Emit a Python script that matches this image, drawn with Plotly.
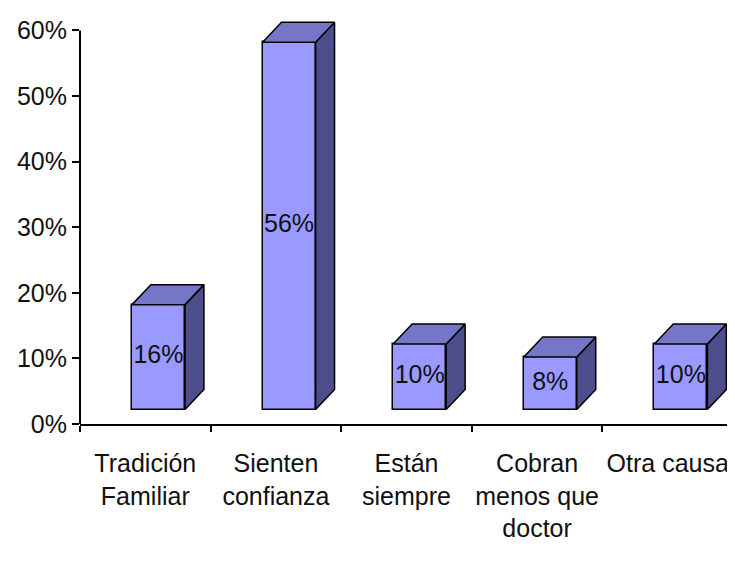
import plotly.graph_objects as go

categories = ["Tradición<br>Familiar", "Sienten<br>confianza", "Están<br>siempre",
              "Cobran<br>menos que<br>doctor", "Otra causa"]
values = [16, 56, 10, 8, 10]
labels = ["16%", "56%", "10%", "8%", "10%"]
y_ticks = [0, 10, 20, 30, 40, 50, 60]
y_tick_labels = ["0%", "10%", "20%", "30%", "40%", "50%", "60%"]

# 3D-look style constants (in axis units)
BASE = 2.2      # floor lift of the front face
OFF = -0.102    # front face left edge relative to category center
W = 0.406       # front face width
DX = 0.145      # depth offset in x
DY = 3.05       # depth offset in y
Y_TOP = 61.6    # headroom so the 3D tops are not clipped

FRONT = "#9999FF"
TOP = "#7676C8"
SIDE = "#4E4E8C"
FONT = "Liberation Sans, Arial, sans-serif"
TXT = "#111111"

fig = go.Figure()

fig.add_trace(go.Bar(
    x=categories, y=values, base=[BASE] * len(values),
    offset=OFF, width=W,
    marker=dict(color=FRONT, line=dict(color="black", width=1.5)),
    hoverinfo="skip", showlegend=False,
))

for i, v in enumerate(values):
    xl = i + OFF
    xr = xl + W
    top = BASE + v
    # side face
    fig.add_trace(go.Scatter(
        x=[xr, xr + DX, xr + DX, xr, xr],
        y=[BASE, BASE + DY, top + DY, top, BASE],
        mode="lines", fill="toself", fillcolor=SIDE,
        line=dict(color="black", width=1.5),
        xaxis="x2", hoverinfo="skip", showlegend=False,
    ))
    # top face
    fig.add_trace(go.Scatter(
        x=[xl, xr, xr + DX, xl + DX, xl],
        y=[top, top, top + DY, top + DY, top],
        mode="lines", fill="toself", fillcolor=TOP,
        line=dict(color="black", width=1.5),
        xaxis="x2", hoverinfo="skip", showlegend=False,
    ))

fig.add_trace(go.Scatter(
    x=[i + OFF + W / 2 for i in range(len(values))],
    y=[BASE + v / 2 for v in values],
    text=labels, mode="text",
    textfont=dict(family=FONT, size=25, color=TXT),
    xaxis="x2", hoverinfo="skip", showlegend=False,
))

# visible y axis line only up to the last tick
fig.add_shape(type="line", xref="paper", yref="y", x0=0, x1=0,
              y0=y_ticks[0], y1=y_ticks[-1],
              line=dict(color="black", width=2))

fig.update_layout(
    width=727, height=568,
    margin=dict(l=72, r=2, t=12, b=152),
    paper_bgcolor="white", plot_bgcolor="white",
    font=dict(family=FONT, size=25, color=TXT),
    bargap=0,
    xaxis=dict(
        type="category", range=[-0.5, 4.5], tickson="boundaries",
        showline=True, linecolor="black", linewidth=2,
        ticks="outside", ticklen=6, tickcolor="black", tickwidth=2,
        showgrid=False, zeroline=False, automargin=False, tickangle=0,
        ticklabelstandoff=16,
        tickfont=dict(family=FONT, size=25, color=TXT),
    ),
    xaxis2=dict(
        range=[-0.5, 4.5], overlaying="x", visible=False,
    ),
    yaxis=dict(
        range=[0, Y_TOP], tickmode="array", tickvals=y_ticks, ticktext=y_tick_labels,
        showline=False,
        ticks="outside", ticklen=7, tickcolor="black", tickwidth=2,
        showgrid=False, zeroline=False, automargin=False,
        tickfont=dict(family=FONT, size=25, color=TXT),
    ),
)

fig.write_html("out.html")
